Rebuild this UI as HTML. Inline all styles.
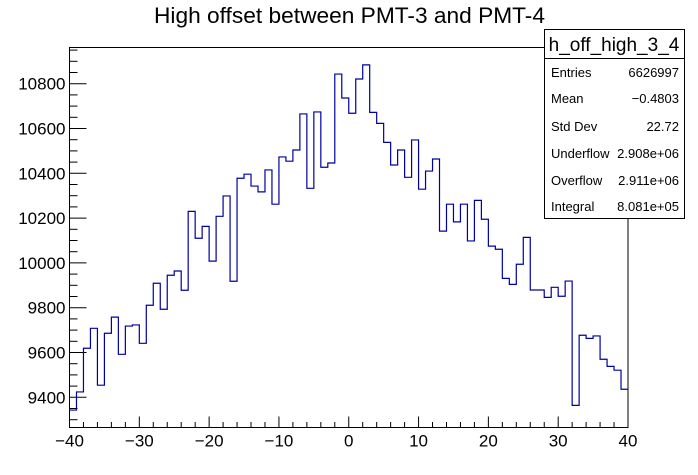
<!DOCTYPE html>
<html><head><meta charset="utf-8"><style>
html,body{margin:0;padding:0;background:#fff;}
svg{display:block;font-family:"Liberation Sans",Arial,sans-serif;}
</style></head><body>
<svg id="chart" width="698" height="475" viewBox="0 0 698 475">
<rect x="0" y="0" width="698" height="475" fill="#fff"/>
<text x="349.5" y="23" font-size="22" text-anchor="middle" textLength="391" lengthAdjust="spacingAndGlyphs">High offset between PMT-3 and PMT-4</text>
<g id="axes"></g>
<path id="hist" fill="none" stroke="#0000a0" stroke-width="1.2"/>
<g>
<rect x="544.5" y="29.5" width="140" height="189" fill="#fff" stroke="#000" stroke-width="1"/>
<line x1="544.5" y1="58.5" x2="684.5" y2="58.5" stroke="#000"/>
<text x="614" y="51" font-size="19" text-anchor="middle">h_off_high_3_4</text>
<g font-size="13">
<text x="551" y="77">Entries</text><text x="679" y="77" text-anchor="end">6626997</text>
<text x="551" y="103">Mean</text><text x="679" y="103" text-anchor="end">−0.4803</text>
<text x="551" y="131">Std Dev</text><text x="679" y="131" text-anchor="end">22.72</text>
<text x="551" y="158">Underflow</text><text x="679" y="158" text-anchor="end">2.908e+06</text>
<text x="551" y="185">Overflow</text><text x="679" y="185" text-anchor="end">2.911e+06</text>
<text x="551" y="211">Integral</text><text x="679" y="211" text-anchor="end">8.081e+05</text>
</g></g>
</svg>
<script>
const binLow = [-40,-39,-38,-37,-36,-35,-34,-33,-32,-31,-30,-29,-28,-27,-26,-25,-24,-23,-22,-21,-20,-19,-18,-17,-16,-15,-14,-13,-12,-11,-10,-9,-8,-7,-6,-5,-4,-3,-2,-1,0,1,2,3,4,5,6,7,8,9,10,11,12,13,14,15,16,17,18,19,20,21,22,23,24,25,26,27,28,29,30,31,32,33,34,35,36,37,38,39];
const counts = [9343,9424,9619,9708,9454,9686,9758,9592,9718,9723,9641,9811,9909,9793,9945,9964,9878,10230,10110,10163,10008,10208,10299,9918,10378,10396,10343,10317,10415,10262,10473,10454,10504,10665,10333,10674,10427,10446,10843,10736,10668,10821,10884,10672,10623,10538,10437,10504,10382,10549,10329,10410,10464,10142,10262,10183,10262,10098,10279,10195,10075,10061,9931,9904,9994,10114,9879,9879,9846,9891,9851,9919,9364,9677,9663,9674,9570,9538,9521,9436];
const xTicks = [-40,-30,-20,-10,0,10,20,30,40];
const yTicks = [9400,9600,9800,10000,10200,10400,10600,10800];
const binWidth = 1;

const L=69.5,R=628,T=47.5,B=427.5;
const xMin=-40,xMax=40;
const yRef0=9400,yPx0=397.3,pxPerUnit=0.224;
const X=v=>L+(v-xMin)/(xMax-xMin)*(R-L);
const Y=v=>yPx0-(v-yRef0)*pxPerUnit;
const yMin=yRef0-(B-yPx0)/pxPerUnit, yMax=yRef0+(yPx0-T)/pxPerUnit;
const NS="http://www.w3.org/2000/svg";
const ax=document.getElementById('axes');
function mk(tag,attrs,parent){const e=document.createElementNS(NS,tag);for(const k in attrs)e.setAttribute(k,attrs[k]);(parent||ax).appendChild(e);return e;}
const fr=mk('rect',{x:L,y:T,width:R-L,height:B-T,fill:'none',stroke:'#000','stroke-width':1});


// y ticks
for(let v=Math.ceil(yMin/50)*50; v<=yMax; v+=50){
  const major=v%200===0;
  const t=mk('line',{x1:L,x2:L+(major?17:8),y1:Y(v),y2:Y(v),stroke:'#000'});
  
  
}
yTicks.forEach(v=>{
  const t=mk('text',{x:L-4,y:Y(v)+6,'font-size':17,'text-anchor':'end'});
  t.textContent=v;
  
  
});
// x ticks
for(let v=xMin; v<=xMax; v+=2){
  const major=v%10===0;
  const t=mk('line',{x1:X(v),x2:X(v),y1:B,y2:B-(major?11:5.5),stroke:'#000'});
  
  
}
xTicks.forEach(v=>{
  const t=mk('text',{x:X(v),y:B+19,'font-size':17,'text-anchor':'middle'});
  t.textContent=v<0?'\u2212'+(-v):v;
  
  
});
// histogram
let d='';
counts.forEach((c,i)=>{
  const x0=X(binLow[i]),x1=X(binLow[i]+binWidth),y=Y(c);
  d+=(i===0?'M'+x0+','+y:'L'+x0+','+y)+'L'+x1+','+y;
});
document.getElementById('hist').setAttribute('d',d);
</script>
</body></html>
